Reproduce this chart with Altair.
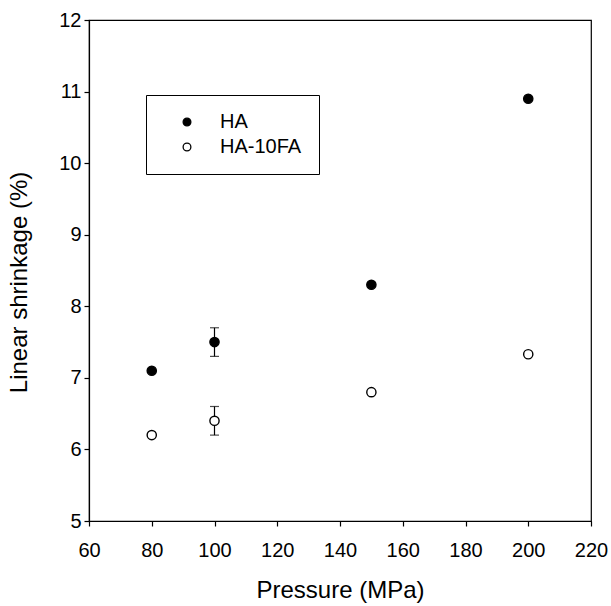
import altair as alt
import pandas as pd

# Linear shrinkage vs. compaction pressure for two powders
pressure = [80, 100, 150, 200]
ha_shrink = [7.1, 7.5, 8.3, 10.9]
ha_err = [0.0, 0.2, 0.0, 0.0]
fa_shrink = [6.2, 6.4, 6.8, 7.33]
fa_err = [0.0, 0.2, 0.0, 0.0]
series_names = ["HA", "HA-10FA"]
x_ticks = [60, 80, 100, 120, 140, 160, 180, 200, 220]
y_ticks = [5, 6, 7, 8, 9, 10, 11, 12]

FONT = "Liberation Sans"

rows = []
for name, vals, errs in [(series_names[0], ha_shrink, ha_err),
                         (series_names[1], fa_shrink, fa_err)]:
    for p, v, e in zip(pressure, vals, errs):
        rows.append({"pressure": p, "shrinkage": v, "err": e,
                     "lo": v - e, "hi": v + e, "series": name})
df = pd.DataFrame(rows)

x_scale = alt.Scale(domain=[60, 220], nice=False, zero=False)
y_scale = alt.Scale(domain=[5, 12], nice=False, zero=False)

x_axis = alt.Axis(values=x_ticks, format="d", title="Pressure (MPa)",
                  labelFlush=False, labelPadding=14, titlePadding=18)
y_axis = alt.Axis(values=y_ticks, format="d", title="Linear shrinkage (%)",
                  labelFlush=False, labelPadding=3, titlePadding=27,
                  titleY=262)

base = alt.Chart(df)

err_df = base.transform_filter("datum.err > 0")

err_rule = err_df.mark_rule(color="black", strokeWidth=1.2).encode(
    x=alt.X("pressure:Q", scale=x_scale, axis=x_axis),
    y=alt.Y("lo:Q", scale=y_scale, axis=y_axis),
    y2="hi:Q",
)
cap_lo = err_df.mark_tick(color="black", orient="horizontal", size=9,
                          thickness=1.2).encode(
    x=alt.X("pressure:Q", scale=x_scale),
    y=alt.Y("lo:Q", scale=y_scale),
)
cap_hi = err_df.mark_tick(color="black", orient="horizontal", size=9,
                          thickness=1.2).encode(
    x=alt.X("pressure:Q", scale=x_scale),
    y=alt.Y("hi:Q", scale=y_scale),
)

points = base.mark_point(shape="circle", size=85, stroke="black",
                         strokeWidth=1.4, opacity=1, fillOpacity=1).encode(
    x=alt.X("pressure:Q", scale=x_scale),
    y=alt.Y("shrinkage:Q", scale=y_scale),
    fill=alt.Fill(
        "series:N",
        scale=alt.Scale(domain=series_names, range=["black", "white"]),
        legend=alt.Legend(
            title=None, orient="none", legendX=57, legendY=75,
            strokeColor="black", fillColor="white", padding=17,
            symbolType="circle", symbolSize=60, symbolStrokeColor="black",
            symbolStrokeWidth=1.3, symbolOffset=14, labelOffset=23,
            labelFont=FONT, labelFontSize=20, labelColor="black",
            rowPadding=5,
        ),
    ),
)

chart = (
    alt.layer(err_rule, cap_lo, cap_hi, points)
    .properties(
        width=502, height=501,
        autosize=alt.AutoSizeParams(type="none"),
        padding={"left": 89, "top": 20, "right": 20, "bottom": 85},
        background="white",
    )
    .configure_view(stroke="black", strokeWidth=1.2)
    .configure_axis(
        grid=False, domainColor="black", domainWidth=1.2, tickColor="black",
        tickSize=5, tickWidth=1.2, labelFont=FONT, labelFontSize=20,
        labelColor="black", titleFont=FONT, titleFontSize=24,
        titleFontWeight="normal", titleColor="black",
    )
)

chart.save("out.html", embed_options={"renderer": "svg", "actions": False})
